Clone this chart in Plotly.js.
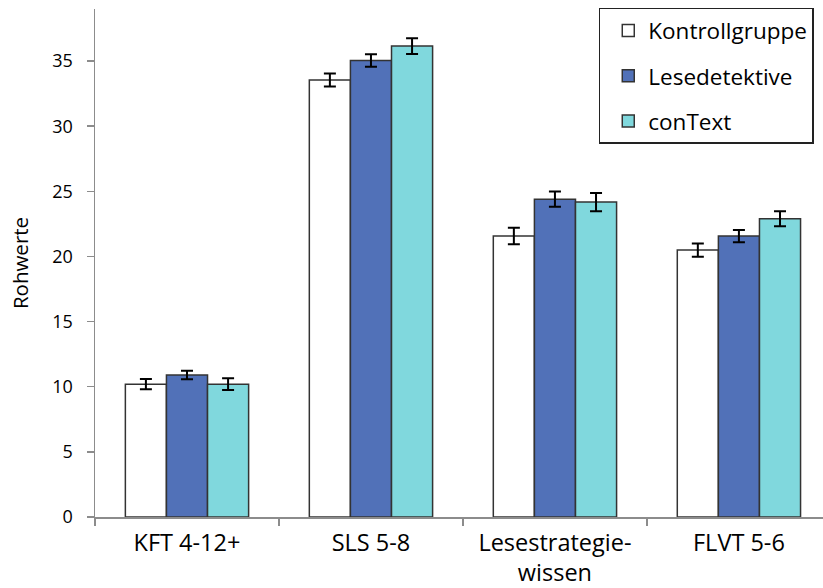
<!DOCTYPE html>
<html>
<head>
<meta charset="utf-8">
<script src="https://cdn.plot.ly/plotly-3.0.1.min.js"></script>
<style>html,body{margin:0;padding:0;background:#fff;}#chart{width:823px;height:588px;}</style>
</head>
<body>
<div id="chart"></div>
<script>
const categories = ["KFT 4-12+", "SLS 5-8", "Lesestrategie-<br>wissen", "FLVT 5-6"];
const seriesNames = ["Kontrollgruppe", "Lesedetektive", "conText"];
const kontrollValues = [10.2, 33.55, 21.57, 20.49];
const kontrollErrors = [0.4, 0.5, 0.64, 0.51];
const lesedetektiveValues = [10.9, 35.05, 24.4, 21.57];
const lesedetektiveErrors = [0.33, 0.48, 0.59, 0.47];
const contextValues = [10.2, 36.15, 24.18, 22.9];
const contextErrors = [0.45, 0.6, 0.7, 0.58];
const colors = ["#ffffff", "#5171b8", "#80d8dd"];

const values = [kontrollValues, lesedetektiveValues, contextValues];
const errors = [kontrollErrors, lesedetektiveErrors, contextErrors];

const traces = seriesNames.map((name, i) => ({
  type: "bar",
  name: name,
  x: categories,
  y: values[i],
  legendgroup: "g" + i,
  marker: {color: colors[i], line: {color: "#333333", width: 1.5}},
  error_y: {type: "data", array: errors[i], visible: true, color: "#000000", thickness: 2, width: 6}
}));

const font = "Open Sans, sans-serif";
const layout = {
  width: 823, height: 588,
  margin: {l: 95, r: 0, t: 9, b: 71, autoexpand: false},
  paper_bgcolor: "#ffffff", plot_bgcolor: "#ffffff",
  font: {family: font, color: "#000000"},
  barmode: "group", bargap: 0.33, bargroupgap: 0,
  showlegend: true,
  legend: {
    x: 0.692, xanchor: "left", y: 1.002, yanchor: "top",
    bgcolor: "#ffffff", bordercolor: "#222222", borderwidth: 1.5,
    font: {family: font, size: 22.5, color: "#000000"},
    traceorder: "grouped", tracegroupgap: 13, indentation: 8,
    entrywidth: 200
  },
  xaxis: {
    type: "category", range: [-0.5, 3.457],
    showline: true, linecolor: "#8c8c8c", linewidth: 1.5,
    ticks: "outside", tickson: "boundaries", ticklen: 7, tickcolor: "#8c8c8c", tickwidth: 1.5,
    tickfont: {family: font, size: 23.5, color: "#000000"},
    ticklabelstandoff: 4,
    showgrid: false, zeroline: false, automargin: false
  },
  yaxis: {
    range: [0, 39], dtick: 5, tick0: 0,
    showline: true, linecolor: "#8c8c8c", linewidth: 1.5,
    ticks: "outside", ticklen: 7, tickcolor: "#8c8c8c", tickwidth: 1.5,
    tickfont: {family: font, size: 18, color: "#000000"},
    ticklabelstandoff: 10,
    showgrid: false, zeroline: false, automargin: false,
    title: {text: "Rohwerte", font: {family: font, size: 20.5, color: "#000000"}, standoff: 18}
  }
};

Plotly.newPlot("chart", traces, layout, {staticPlot: true, displayModeBar: false});
</script>
</body>
</html>
